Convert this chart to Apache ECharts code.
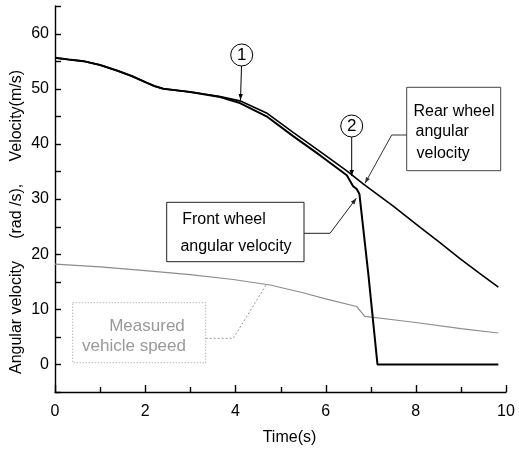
<!DOCTYPE html>
<html>
<head>
<meta charset="utf-8">
<script src="https://cdn.jsdelivr.net/npm/echarts@6/dist/echarts.min.js"></script>
<style>html,body{margin:0;padding:0;background:#fff}#c{width:519px;height:455px}</style>
</head>
<body>
<div id="c"></div>
<script>
// ---- data ----
var frontT = [0, 0.3, 0.63, 1.0, 1.37, 1.7, 2.03, 2.2, 2.4, 2.7, 3.0, 3.66, 4.1, 4.69, 5.28, 5.88, 6.47, 6.61, 6.69, 6.75, 6.95, 7.15, 9.83];
var frontV = [55.6, 55.3, 55.0, 54.3, 53.3, 52.3, 51.1, 50.5, 50.0, 49.7, 49.4, 48.5, 47.4, 45.0, 41.4, 37.9, 34.3, 32.3, 31.8, 30.9, 16.2, 0, 0];
var rearT = [0, 0.3, 0.63, 1.0, 1.37, 1.7, 2.03, 2.2, 2.4, 2.7, 3.0, 3.66, 4.1, 4.69, 5.28, 5.88, 6.47, 6.84, 7.5, 8.09, 8.5, 8.98, 9.4, 9.83];
var rearV = [55.6, 55.3, 55.0, 54.3, 53.3, 52.3, 51.1, 50.5, 50.0, 49.7, 49.4, 48.6, 47.8, 45.6, 42.1, 38.6, 35.1, 32.7, 28.7, 24.9, 22.3, 19.2, 16.6, 14.0];
var speedT = [0, 1, 2, 3, 3.95, 4.77, 5.5, 6.0, 6.69, 6.87, 7.5, 8, 9, 9.83];
var speedV = [18.2, 17.7, 17.0, 16.3, 15.4, 14.4, 13.0, 11.9, 10.5, 8.7, 8.1, 7.6, 6.5, 5.7];
var xTickLabels = ['0', '2', '4', '6', '8', '10'];
var yTickLabels = ['0', '10', '20', '30', '40', '50', '60'];
var xTickValues = [0, 1, 2, 3, 4, 5, 6, 7, 8, 9, 10];
var yTickValues = [-5, 0, 5, 10, 15, 20, 25, 30, 35, 40, 45, 50, 55, 60, 65];

function pairs(t, v) { return t.map(function (x, i) { return [x, v[i]]; }); }

var FONT = '"Liberation Sans", Arial, sans-serif';
var chart = echarts.init(document.getElementById('c'), null, { renderer: 'canvas' });

function arrowHead(tip, from, color) {
  var dx = tip[0] - from[0], dy = tip[1] - from[1];
  var L = Math.sqrt(dx * dx + dy * dy); dx /= L; dy /= L;
  var px = -dy, py = dx, len = 6, w = 2.2;
  return {
    type: 'polygon', silent: true,
    shape: { points: [tip, [tip[0] - len * dx + w * px, tip[1] - len * dy + w * py], [tip[0] - len * dx - w * px, tip[1] - len * dy - w * py]] },
    style: { fill: color }
  };
}
function text(x, y, s, opts) {
  return {
    type: 'text', x: x, y: y, silent: true,
    style: Object.assign({ text: s, font: '16px ' + FONT, fill: '#000', align: 'center', verticalAlign: 'middle' }, opts || {})
  };
}

var graphics = [
  { type: 'text', x: 17, y: 222, rotation: Math.PI / 2, silent: true,
    style: { text: 'Angular velocity     (rad /s),     Velocity(m/s)', font: '16px ' + FONT, fill: '#000', align: 'center', verticalAlign: 'middle' } },
  { type: 'circle', shape: { cx: 241.7, cy: 55, r: 11 }, style: { fill: '#fff', stroke: '#000', lineWidth: 1 } },
  text(241.7, 55.5, '1', { font: '17px ' + FONT }),
  { type: 'line', shape: { x1: 241.5, y1: 66, x2: 240.5, y2: 100 }, style: { stroke: '#000', lineWidth: 1 } },
  arrowHead([240.5, 100], [241.5, 66], '#000'),
  { type: 'circle', shape: { cx: 351.7, cy: 126, r: 11 }, style: { fill: '#fff', stroke: '#000', lineWidth: 1 } },
  text(351.7, 126.5, '2', { font: '17px ' + FONT }),
  { type: 'line', shape: { x1: 351.7, y1: 137, x2: 351.7, y2: 176 }, style: { stroke: '#000', lineWidth: 1 } },
  arrowHead([351.7, 176], [351.7, 137], '#000'),
  { type: 'rect', shape: { x: 406.7, y: 87.3, width: 94, height: 83.4 }, style: { fill: '#fff', stroke: '#444', lineWidth: 1 } },
  text(413.5, 111.5, 'Rear wheel', { align: 'left' }),
  text(415.5, 132, 'angular', { align: 'left' }),
  text(416.5, 153.5, 'velocity', { align: 'left' }),
  { type: 'polyline', shape: { points: [[406.7, 135], [391.7, 135], [365, 183.3]] }, style: { stroke: '#333', lineWidth: 1, fill: null } },
  arrowHead([365, 183.3], [391.7, 135], '#333'),
  { type: 'rect', shape: { x: 166.7, y: 202.3, width: 137.3, height: 59.4 }, style: { fill: '#fff', stroke: '#222', lineWidth: 1 } },
  text(224, 219.5, 'Front wheel'),
  text(236, 246.5, 'angular velocity'),
  { type: 'polyline', shape: { points: [[304, 233.3], [330, 233.3], [356.3, 198.3]] }, style: { stroke: '#222', lineWidth: 1, fill: null } },
  arrowHead([356.3, 198.3], [330, 233.3], '#222'),
  { type: 'rect', shape: { x: 72.7, y: 302.7, width: 133, height: 60 }, style: { fill: '#fff', stroke: '#9a9a9a', lineWidth: 1, lineDash: [1, 2] } },
  text(147, 326.5, 'Measured', { fill: '#999', font: '17px ' + FONT }),
  text(134, 346.5, 'vehicle speed', { fill: '#999', font: '17px ' + FONT }),
  { type: 'polyline', shape: { points: [[205.7, 338.3], [233.3, 338.3], [266, 285]] }, style: { stroke: '#9a9a9a', lineWidth: 1, lineDash: [2, 2], fill: null } }
];

var option = {
  animation: false,
  backgroundColor: '#fff',
  grid: { left: 55, right: 13, top: 6, bottom: 63, containLabel: false },
  xAxis: {
    type: 'value', min: 0, max: 10, interval: 1,
    name: 'Time(s)', nameLocation: 'middle', nameGap: 38,
    nameTextStyle: { fontFamily: FONT, fontSize: 16, color: '#000', padding: [0, 0, 0, 18] },
    axisLine: { show: true, onZero: false, lineStyle: { color: '#000', width: 1.4 } },
    axisTick: { show: false },
    axisLabel: { margin: 12, fontFamily: FONT, fontSize: 16, color: '#000', showMinLabel: true, showMaxLabel: true,
      formatter: function (v) { var r = Math.round(v); if (r % 2 !== 0) return ''; return xTickLabels[r / 2] !== undefined ? xTickLabels[r / 2] : ''; } },
    splitLine: { show: false }
  },
  yAxis: {
    type: 'value', min: -5, max: 65, interval: 5,
    axisLine: { show: true, onZero: false, lineStyle: { color: '#000', width: 1.4 } },
    axisTick: { show: false },
    axisLabel: { margin: 6, fontFamily: FONT, fontSize: 16, color: '#000', showMinLabel: true, showMaxLabel: true,
      formatter: function (v) { if (Math.round(v) % 10 !== 0) return ''; var s = String(Math.round(v)); return yTickLabels.indexOf(s) >= 0 ? s : ''; } },
    splitLine: { show: false }
  },
  series: [
    { name: 'Measured vehicle speed', type: 'line', data: pairs(speedT, speedV), showSymbol: false, z: 1,
      lineStyle: { color: '#8c8c8c', width: 1.2 } },
    { name: 'Rear wheel angular velocity', type: 'line', data: pairs(rearT, rearV), showSymbol: false, z: 2,
      lineStyle: { color: '#000', width: 1.6 } },
    { name: 'Front wheel angular velocity', type: 'line', data: pairs(frontT, frontV), showSymbol: false, z: 3,
      lineStyle: { color: '#000', width: 2 } }
  ],
  graphic: graphics
};
chart.setOption(option);

// axis ticks (inside), placed through the chart's own scales
var ticks = [];
var xBase = chart.convertToPixel({ yAxisIndex: 0 }, -5);
var yBase = chart.convertToPixel({ xAxisIndex: 0 }, 0);
xTickValues.forEach(function (t) {
  var px = Math.round(chart.convertToPixel({ xAxisIndex: 0 }, t)) + 0.5;
  var len = (t % 2 === 0) ? 7 : 5;
  ticks.push({ type: 'line', silent: true, z: 10, shape: { x1: px, y1: xBase, x2: px, y2: xBase - len }, style: { stroke: '#000', lineWidth: 1.4 } });
});
yTickValues.forEach(function (v) {
  var py = Math.round(chart.convertToPixel({ yAxisIndex: 0 }, v)) + 0.5;
  ticks.push({ type: 'line', silent: true, z: 10, shape: { x1: yBase, y1: py, x2: yBase + 6, y2: py }, style: { stroke: '#000', lineWidth: 1.4 } });
});
chart.setOption({ graphic: graphics.concat(ticks) });
</script>
</body>
</html>
